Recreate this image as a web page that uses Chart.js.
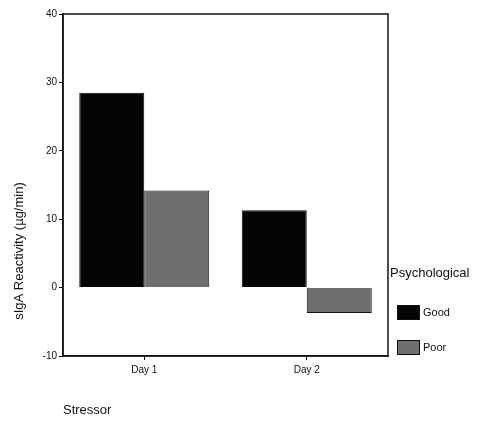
<!DOCTYPE html>
<html>
<head>
<meta charset="utf-8">
<script src="https://cdn.jsdelivr.net/npm/chart.js@4/dist/chart.umd.min.js"></script>
<style>
  html, body { margin: 0; padding: 0; background: #fff; }
  #wrap { width: 491px; height: 424px; position: relative; }
</style>
</head>
<body>
<div id="wrap"><canvas id="chart" width="491" height="424"></canvas></div>
<script>
// datos
const CATEGORIAS = ["Day 1", "Day 2"];
const GOOD = [28.5, 11.3];
const POOR = [14.2, -3.7];
const Y_TICKS = [-10, 0, 10, 20, 30, 40];

const FONT = "'Liberation Sans', Arial, sans-serif";
const COLOR_GOOD = "#050505";
const COLOR_POOR = "#6f6f6f";

// marco completo del área del gráfico + títulos + leyenda a mano
const extras = {
  id: "extras",
  afterDraw(chart) {
    const { ctx, chartArea: a } = chart;
    ctx.save();
    ctx.strokeStyle = "#111";
    ctx.lineWidth = 1.5;
    ctx.strokeRect(a.left, a.top, a.right - a.left, a.bottom - a.top);

    // título eje Y
    ctx.fillStyle = "#111";
    ctx.font = "13px " + FONT;
    ctx.textAlign = "center";
    ctx.textBaseline = "middle";
    ctx.translate(19, 251);
    ctx.rotate(-Math.PI / 2);
    ctx.fillText("sIgA Reactivity (µg/min)", 0, 0);
    ctx.setTransform(1, 0, 0, 1, 0, 0);

    // título eje X
    ctx.textAlign = "left";
    ctx.fillText("Stressor", 63, 410);

    // leyenda
    ctx.fillText("Psychological", 390, 273);
    ctx.font = "11px " + FONT;
    chart.data.datasets.forEach((ds, i) => {
      const y = 305 + i * 35;
      ctx.fillStyle = ds.backgroundColor;
      ctx.fillRect(397, y, 23, 15);
      ctx.strokeStyle = "#111";
      ctx.lineWidth = 1;
      ctx.strokeRect(397.5, y + 0.5, 22, 14);
      ctx.fillStyle = "#111";
      ctx.fillText(ds.label, 423, y + 8);
    });
    ctx.restore();
  },
};

new Chart(document.getElementById("chart").getContext("2d"), {
  type: "bar",
  data: {
    labels: CATEGORIAS,
    datasets: [
      { label: "Good", data: GOOD, backgroundColor: COLOR_GOOD, borderColor: "#111", borderWidth: 1 },
      { label: "Poor", data: POOR, backgroundColor: COLOR_POOR, borderColor: "#111", borderWidth: 1 },
    ],
  },
  options: {
    responsive: false,
    animation: false,
    layout: { padding: { left: 0, right: 103, top: 14, bottom: 0 } },
    plugins: { legend: { display: false }, tooltip: { enabled: false } },
    datasets: { bar: { categoryPercentage: 0.8, barPercentage: 1 } },
    scales: {
      x: {
        afterFit: (s) => { s.height = 68; },
        grid: { offset: false, drawOnChartArea: false, drawTicks: true, tickLength: 4, color: "#111" },
        border: { display: true, color: "#111", width: 1.5 },
        ticks: { color: "#111", font: { family: FONT, size: 10 }, padding: 4 },
      },
      y: {
        min: -10,
        max: 40,
        afterFit: (s) => { s.width = 63; },
        afterBuildTicks: (s) => { s.ticks = Y_TICKS.map((v) => ({ value: v })); },
        grid: { drawOnChartArea: false, drawTicks: true, tickLength: 4, color: "#111" },
        border: { display: true, color: "#111", width: 1.5 },
        ticks: { color: "#111", font: { family: FONT, size: 10 }, padding: 2 },
      },
    },
  },
  plugins: [extras],
});
</script>
</body>
</html>
